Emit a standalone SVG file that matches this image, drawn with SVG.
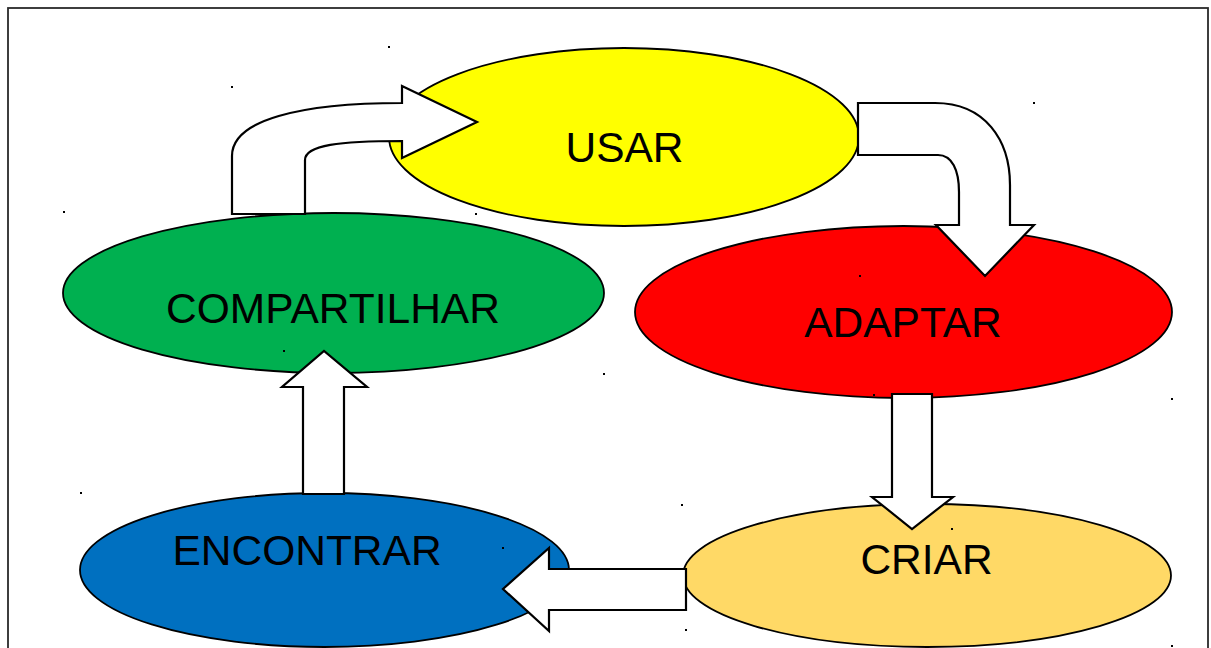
<svg xmlns="http://www.w3.org/2000/svg" width="1211" height="648" viewBox="0 0 1211 648">
<style>
.node ellipse{stroke:#000;stroke-width:1.8}
.lbl{font-family:"Liberation Sans",Arial,sans-serif;font-size:42.5px;fill:#000;text-anchor:middle}
.arr{fill:#fff;stroke:#000;stroke-width:2.2;stroke-linejoin:miter}
.dot{fill:#000}
</style>
<rect x="0" y="0" width="1211" height="648" fill="#fff"/>
<rect x="8" y="8" width="1200" height="660" fill="#fff" stroke="#2a2a2a" stroke-width="1.8"/>
<g id="usar" class="node"><ellipse cx="624" cy="137" rx="235" ry="89" fill="#ffff00"/><text class="lbl" x="624.5" y="162">USAR</text></g>
<g id="compartilhar" class="node"><ellipse cx="333.5" cy="293" rx="270.5" ry="80" fill="#00b050"/><text class="lbl" x="333" y="323">COMPARTILHAR</text></g>
<g id="adaptar" class="node"><ellipse cx="903.5" cy="312" rx="268.5" ry="86" fill="#ff0000"/><text class="lbl" x="903" y="337">ADAPTAR</text></g>
<g id="encontrar" class="node"><ellipse cx="324.5" cy="570" rx="244.5" ry="77" fill="#0070c0"/><text class="lbl" x="307" y="565">ENCONTRAR</text></g>
<g id="criar" class="node"><ellipse cx="927" cy="575.5" rx="244" ry="71.5" fill="#ffd966"/><text class="lbl" x="926.5" y="574">CRIAR</text></g>
<g id="connectors">
<path class="arr" d="M232,214 L232,156 C232,120 300,103 402,103 L402,86 L477,122 L402,158 L402,141 C340,141 305,145 305,160 L305,214 Z"/>
<path class="arr" d="M858,103 L935,103 C985,103 1010,140 1010,185 L1010,225 L1034,225 L985,276 L936,225 L959,225 L959,192 C959,170 952,155 938,155 L858,155 Z"/>
<path class="arr" d="M892,394 L932,394 L932,497 L953,497 L912,529 L872,497 L892,497 Z"/>
<path class="arr" d="M686,569 L686,610 L549,610 L549,631 L503,589 L549,548 L549,569 Z"/>
<path class="arr" d="M303,494 L303,387 L282,387 L324,351 L367,387 L344,387 L344,494 Z"/>
</g>
<g id="dots" class="dot">
<rect x="388" y="46" width="2" height="2"/>
<rect x="231" y="86" width="2" height="2"/>
<rect x="1033" y="102" width="2" height="2"/>
<rect x="63" y="211" width="2" height="2"/>
<rect x="475" y="213" width="2" height="2"/>
<rect x="859" y="275" width="2" height="2"/>
<rect x="283" y="350" width="2" height="2"/>
<rect x="603" y="373" width="2" height="2"/>
<rect x="873" y="394" width="2" height="2"/>
<rect x="1171" y="398" width="2" height="2"/>
<rect x="80" y="492" width="2" height="2"/>
<rect x="681" y="504" width="2" height="2"/>
<rect x="951" y="528" width="2" height="2"/>
<rect x="502" y="547" width="2" height="2"/>
<rect x="685" y="629" width="2" height="2"/>
<rect x="1171" y="645" width="2" height="2"/>
</g>
</svg>
